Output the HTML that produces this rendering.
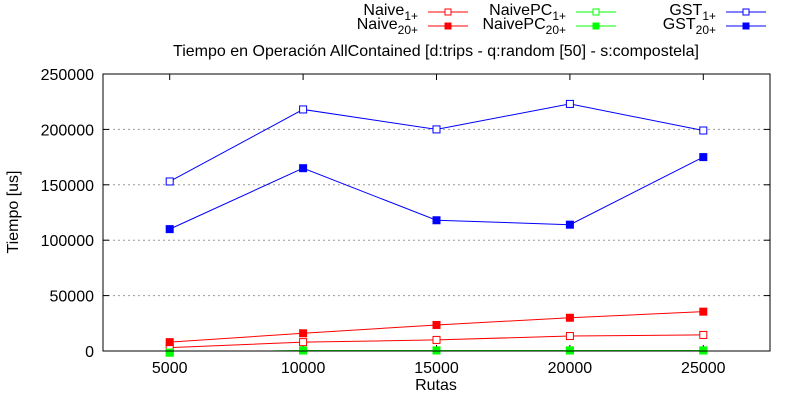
<!DOCTYPE html>
<html><head><meta charset="utf-8"><style>
body{margin:0;background:#fff}
svg text{font-family:"Liberation Sans",sans-serif;font-size:16px;fill:#000}
</style></head><body>
<svg id="c" width="800" height="400" xmlns="http://www.w3.org/2000/svg">
<defs><clipPath id="clip"><rect x="103" y="74" width="667" height="277"/></clipPath></defs>
<text x="436" y="56" text-anchor="middle">Tiempo en Operación AllContained [d:trips - q:random [50] - s:compostela]</text>
<text x="436" y="390" text-anchor="middle">Rutas</text>
<text transform="translate(18,212) rotate(-90)" text-anchor="middle">Tiempo [us]</text>
<g id="grid"></g><g id="series"></g><g id="legend"></g>
<rect x="103" y="74" width="667" height="277" fill="none" stroke="#000"/>
</svg>
<script>
const categories=[5000,10000,15000,20000,25000];
const yTicks=[0,50000,100000,150000,200000,250000];
const naive1=[3000,8000,10000,13500,14500];
const naive20=[8000,16000,23500,30000,35500];
const pc1=[-1500,500,500,500,500];
const pc20=[-1500,500,500,500,500];
const gst1=[153000,218000,200000,223000,199000];
const gst20=[110000,165000,118000,114000,175000];
const X=v=>103+(v-2500)/25000*667;
const Y=v=>351-v/250000*277;
const NS='http://www.w3.org/2000/svg';
function mk(t,a,p){const e=document.createElementNS(NS,t);for(const k in a)e.setAttribute(k,a[k]);p.appendChild(e);return e;}
const g=document.getElementById('grid');
yTicks.forEach(t=>{
 if(t>0&&t<250000){const l=mk('line',{x1:103,x2:770,y1:Y(t),y2:Y(t),stroke:'#999','stroke-dasharray':'2,3'},g);
 
 }
 const tx=mk('text',{x:94,y:Y(t)+6,'text-anchor':'end'},g);tx.textContent=t;
 
 
 mk('line',{x1:103,x2:109,y1:Y(t),y2:Y(t),stroke:'#000'},g);
 mk('line',{x1:764,x2:770,y1:Y(t),y2:Y(t),stroke:'#000'},g);
});
categories.forEach(c=>{
 const tx=mk('text',{x:X(c),y:373,'text-anchor':'middle'},g);tx.textContent=c;
 
 
 mk('line',{x1:X(c),x2:X(c),y1:351,y2:345,stroke:'#000'},g);
 mk('line',{x1:X(c),x2:X(c),y1:74,y2:80,stroke:'#000'},g);
});
const S=document.getElementById('series');
const series=[[naive1,'#f00',false,'naive-1'],[naive20,'#f00',true,'naive-20'],[pc1,'#0f0',false,'naivepc-1'],[pc20,'#0f0',true,'naivepc-20'],[gst1,'#00f',false,'gst-1'],[gst20,'#00f',true,'gst-20']];
series.forEach(([d,col,fill,name])=>{
 const p=mk('polyline',{points:d.map((v,i)=>X(categories[i])+','+Y(v)).join(' '),fill:'none',stroke:col,'stroke-width':1,'clip-path':'url(#clip)'},S);
 
 
 d.forEach((v,i)=>{const r=mk('rect',{x:X(categories[i])-3.5,y:Y(v)-3.5,width:7,height:7,fill:fill?col:'#fff',stroke:col},S);
  
  });
});
const L=document.getElementById('legend');
const leg=[['Naive','1+',418,12,'#f00',false],['Naive','20+',418,26,'#f00',true],['NaivePC','1+',566,12,'#0f0',false],['NaivePC','20+',566,26,'#0f0',true],['GST','1+',716,12,'#00f',false],['GST','20+',716,26,'#00f',true]];
leg.forEach(([n,s,x,y,col,fill])=>{
 const t=mk('text',{x:x,y:y+3,'text-anchor':'end'},L);
 
 
 const a=document.createElementNS(NS,'tspan');a.textContent=n;t.appendChild(a);
 const b=document.createElementNS(NS,'tspan');b.setAttribute('dy','5');b.setAttribute('font-size','12');b.textContent=s;t.appendChild(b);
 mk('line',{x1:x+10,x2:x+50,y1:y,y2:y,stroke:col},L);
 mk('rect',{x:x+27,y:y-3,width:6,height:6,fill:fill?col:'#fff',stroke:col},L);
});
</script>
</body></html>
